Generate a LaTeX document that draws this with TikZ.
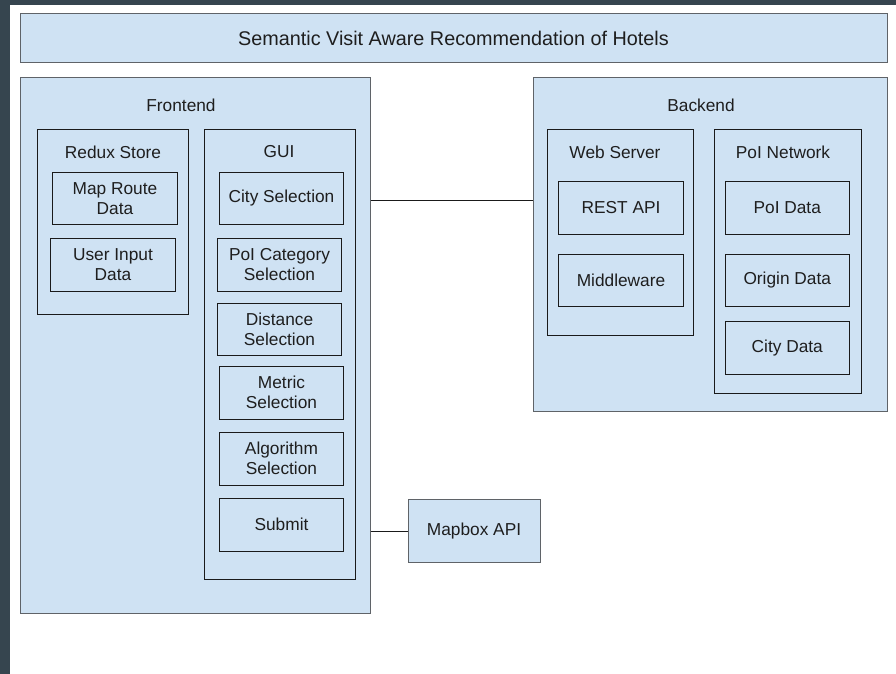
\documentclass[tikz,border=0pt]{standalone}
\usepackage{fontspec}
\setmainfont{Liberation Sans}
\definecolor{boxfill}{HTML}{CFE2F3}
\definecolor{frame}{HTML}{36454F}
\definecolor{outerline}{HTML}{5F6368}
\definecolor{innerline}{HTML}{1A1A1A}
\definecolor{txt}{HTML}{1E1E1E}
\begin{document}
\begin{tikzpicture}[x=1pt,y=-1pt,
  font=\fontsize{17.3}{20}\selectfont, text=txt,
  outerbox/.style={draw=outerline, fill=boxfill, line width=1pt, inner sep=0pt, outer sep=0pt},
  innerbox/.style={draw=innerline, fill=boxfill, line width=0.9pt, inner sep=0pt, outer sep=0pt, align=center},
  lbl/.style={inner sep=0pt, anchor=center},
  conn/.style={draw=innerline, line width=0.9pt}]
\useasboundingbox (0,0) rectangle (896,674);
\fill[white] (0,0) rectangle (896,674);
\fill[frame] (0,0) rectangle (10,674);
\fill[frame] (0,0) rectangle (896,5);
% title
\node[outerbox, minimum width=867pt, minimum height=49pt, font=\fontsize{19.8}{22}\selectfont] (title) at (453.5,38.5) {Semantic Visit Aware Recommendation of Hotels};
% frontend
\node[outerbox, minimum width=350.5pt, minimum height=535pt] (frontend) at (195.25,345.5) {};
\node[lbl] (frontendlbl) at (181,105) {Frontend};
\node[innerbox, minimum width=151pt, minimum height=184.5pt] (redux) at (113,221.75) {};
\node[lbl] (reduxlbl) at (113,152) {Redux Store};
\node[innerbox, minimum width=125pt, minimum height=52pt] (maproute) at (115,198.5) {Map Route\\Data};
\node[innerbox, minimum width=125pt, minimum height=52.5pt] (userinput) at (113,264.75) {User Input\\Data};
\node[innerbox, minimum width=150.5pt, minimum height=449.5pt] (gui) at (279.75,354.25) {};
\node[lbl] (guilbl) at (279,152) {GUI};
\node[innerbox, minimum width=124pt, minimum height=52pt] (city) at (281.5,198.5) {City Selection};
\node[innerbox, minimum width=124pt, minimum height=52.5pt] (poicat) at (279.5,264.75) {PoI Category\\Selection};
\node[innerbox, minimum width=124pt, minimum height=52pt] (distance) at (279.5,329.5) {Distance\\Selection};
\node[innerbox, minimum width=124pt, minimum height=53pt] (metric) at (281.5,392.5) {Metric\\Selection};
\node[innerbox, minimum width=124pt, minimum height=52.5pt] (algorithm) at (281.5,458.75) {Algorithm\\Selection};
\node[innerbox, minimum width=124pt, minimum height=52.5pt] (submit) at (281.5,524.75) {Submit};
% mapbox
\node[outerbox, minimum width=132pt, minimum height=63pt] (mapbox) at (474,531) {Mapbox API};
% backend
\node[outerbox, minimum width=354pt, minimum height=333pt] (backend) at (710,244.5) {};
\node[lbl] (backendlbl) at (701,105) {Backend};
\node[innerbox, minimum width=146pt, minimum height=206pt] (webserver) at (620.5,232.5) {};
\node[lbl] (webserverlbl) at (615,152) {Web Server};
\node[innerbox, minimum width=125pt, minimum height=52.5pt] (restapi) at (621,207.75) {REST API};
\node[innerbox, minimum width=125pt, minimum height=52pt] (middleware) at (621,280.5) {Middleware};
\node[innerbox, minimum width=147pt, minimum height=264pt] (poinet) at (787.5,261.5) {};
\node[lbl] (poinetlbl) at (783,152) {PoI Network};
\node[innerbox, minimum width=124.5pt, minimum height=52.5pt] (poidata) at (787.25,207.75) {PoI Data};
\node[innerbox, minimum width=124.5pt, minimum height=52pt] (origindata) at (787.25,280.5) {Origin Data};
\node[innerbox, minimum width=124.5pt, minimum height=53pt] (citydata) at (787.25,348) {City Data};
% connectors
\draw[conn] ([yshift=-1.5pt]frontend.east |- city.center) -- ([yshift=-1.5pt]backend.west |- city.center);
\draw[conn] (frontend.east |- mapbox.center) -- (mapbox.west);
\end{tikzpicture}
\end{document}
